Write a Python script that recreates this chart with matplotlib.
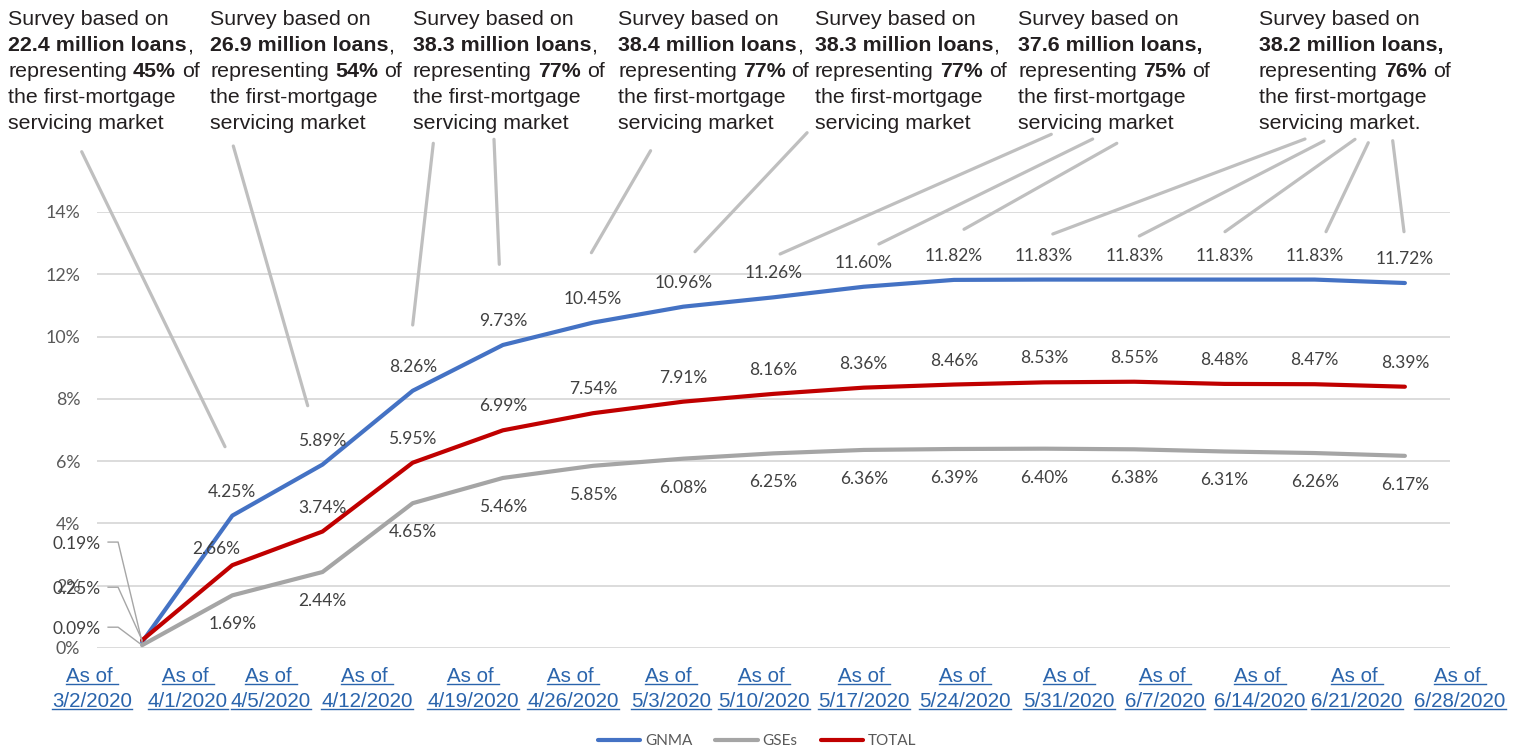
import matplotlib
matplotlib.use('Agg')
import matplotlib.pyplot as plt
from matplotlib.lines import Line2D
from matplotlib.transforms import IdentityTransform

W, H = 1523, 751

# data
dates = ['3/2/2020', '4/1/2020', '4/5/2020', '4/12/2020', '4/19/2020', '4/26/2020',
         '5/3/2020', '5/10/2020', '5/17/2020', '5/24/2020', '5/31/2020', '6/7/2020',
         '6/14/2020', '6/21/2020', '6/28/2020']
gnma = [0.19, 4.25, 5.89, 8.26, 9.73, 10.45, 10.96, 11.26, 11.60, 11.82, 11.83, 11.83, 11.83, 11.83, 11.72]
gses = [0.09, 1.69, 2.44, 4.65, 5.46, 5.85, 6.08, 6.25, 6.36, 6.39, 6.40, 6.38, 6.31, 6.26, 6.17]
total = [0.25, 2.66, 3.74, 5.95, 6.99, 7.54, 7.91, 8.16, 8.36, 8.46, 8.53, 8.55, 8.48, 8.47, 8.39]
survey_loans = ['22.4', '26.9', '38.3', '38.4', '38.3', '37.6', '38.2']
survey_share = ['45%', '54%', '77%', '77%', '77%', '75%', '76%']

plt.rcParams['font.family'] = ['Lato', 'DejaVu Sans']
ARIAL = ['Liberation Sans', 'DejaVu Sans']
BLUE, GRAY, RED = '#4472C4', '#A5A5A5', '#C00000'
LABEL_C = '#404040'

fig = plt.figure(figsize=(W / 100, H / 100), dpi=100)
ax = fig.add_axes([97 / W, 1 - 648 / H, (1450 - 97) / W, (648 - 212) / H])
renderer = fig.canvas.get_renderer()
idt = IdentityTransform()

x = list(range(len(dates)))
ax.set_xlim(-0.5, len(dates) - 0.5)
ax.set_ylim(0, 14)
ax.set_yticks(range(0, 15, 2))
ax.set_yticklabels([f'{v}%' for v in range(0, 15, 2)])
ax.set_xticks([])
ax.tick_params(axis='y', length=0, pad=12, labelsize=12.8, labelcolor='#595959')
for s in ax.spines.values():
    s.set_visible(False)
ax.grid(axis='y', color='#D9D9D9', lw=1.3)
ax.set_axisbelow(True)

ax.plot(x, gnma, color=BLUE, lw=3, solid_capstyle='round', label='GNMA', zorder=3)
ax.plot(x, gses, color=GRAY, lw=3, solid_capstyle='round', label='GSEs', zorder=3)
ax.plot(x, total, color=RED, lw=3, solid_capstyle='round', label='TOTAL', zorder=4)

# data labels (pixel offsets from the points)
for series, dy in [(gnma, 24), (total, 24), (gses, -29)]:
    for i in x[1:]:
        off = (0, dy)
        if series is total and i == 1:
            off = (-16, 16)
        ax.annotate(f'{series[i]:.2f}%', (i, series[i]), xytext=off, textcoords='offset pixels',
                    ha='center', va='center', fontsize=12.5, color=LABEL_C, zorder=5)

# first-point labels with leader lines
for series, dy in [(gnma, 98), (total, 51), (gses, 16)]:
    px, py = ax.transData.transform((0, series[0]))
    tx, ty = px - 41, py + dy
    fig.text(tx, ty, f'{series[0]:.2f}%', transform=idt, ha='right', va='center',
             fontsize=12.5, color=LABEL_C)
    fig.add_artist(Line2D([tx + 7, tx + 17, px], [ty + 2, ty + 2, py], transform=idt,
                          color='#A6A6A6', lw=1))


def ptext(xp, yp, s, **kw):
    return fig.text(xp, H - yp, s, transform=idt, **kw)


def width(s, **kw):
    t = ptext(0, 0, s, **kw)
    w = t.get_window_extent(renderer).width
    t.remove()
    return w


# survey text boxes
sfont = dict(family=ARIAL, fontsize=15.4, color='#231F20', va='baseline')
space = width('a a', **sfont) - width('aa', **sfont)
box_left = [8, 210, 413, 618, 815, 1018, 1259]
baselines = [25, 51, 77, 103, 129]


def rich_line(x0, yb, parts):
    for s, bold in parts:
        if s.startswith(' '):
            x0 += space
            s = s[1:]
        t = ptext(x0, yb, s, fontweight='bold' if bold else 'normal', **sfont)
        x0 = t.get_window_extent(renderer).x1


for i, (loans, share) in enumerate(zip(survey_loans, survey_share)):
    last = i == len(survey_loans) - 1
    if i >= 5:
        l2 = [(f'{loans} million loans,', True)]
    else:
        l2 = [(f'{loans} million loans', True), (',', False)]
    lines = [[('Survey based on', False)], l2,
             [('representing', False), (' ' + share, True), (' of', False)],
             [('the first-mortgage', False)],
             [('servicing market' + ('.' if last else ''), False)]]
    for parts, yb in zip(lines, baselines):
        rich_line(box_left[i], yb, parts)

# survey leader lines (pixel geometry)
leaders = [((81.7, 151.7), (225, 446.7)), ((233.3, 146), (307.7, 405.7)),
           ((433.3, 143.3), (412.7, 325)), ((494, 139.3), (499.3, 264.3)),
           ((650.6, 150.7), (591.4, 252.7)), ((807.1, 132.7), (695, 251.7)),
           ((1051.3, 134.3), (780.1, 254)), ((1092.7, 139), (878.9, 244)),
           ((1116.8, 143.3), (964, 229.3)), ((1305, 139), (1052.8, 234)),
           ((1324, 141), (1139.3, 236)), ((1355, 139.3), (1225, 231.7)),
           ((1368.3, 142.7), (1326, 231.7)), ((1392.7, 140.7), (1404, 231.7))]
for (x1, y1), (x2, y2) in leaders:
    fig.add_artist(Line2D([x1, x2], [H - y1, H - y2], transform=idt, color='#BFBFBF',
                          lw=2.3, solid_capstyle='round', zorder=1))

# underlined x labels
xfont = dict(family=ARIAL, fontsize=14.75, color='#2A64AC', va='baseline')
xspace = width('a a', **xfont) - width('aa', **xfont)
xlab_px = [92, 188, 271, 367, 473, 573, 671, 764, 864, 965, 1069, 1165, 1260, 1357, 1460]
for cx, d in zip(xlab_px, dates):
    for s, yb, extra in [('As of', 682, xspace), (d, 707, 0)]:
        w = width(s, **xfont) + extra
        x0 = cx - w / 2
        ptext(x0, yb, s, **xfont)
        fig.add_artist(Line2D([x0, x0 + w], [H - yb - 2, H - yb - 2], transform=idt,
                              color='#2A64AC', lw=1))

fig.legend(loc='center', bbox_to_anchor=(757 / W, 1 - 741 / H), ncol=3, frameon=False,
           fontsize=11, labelcolor='#595959', handlelength=2.8, handletextpad=0.3,
           columnspacing=1.5)

fig.savefig('out.png', dpi=100)
